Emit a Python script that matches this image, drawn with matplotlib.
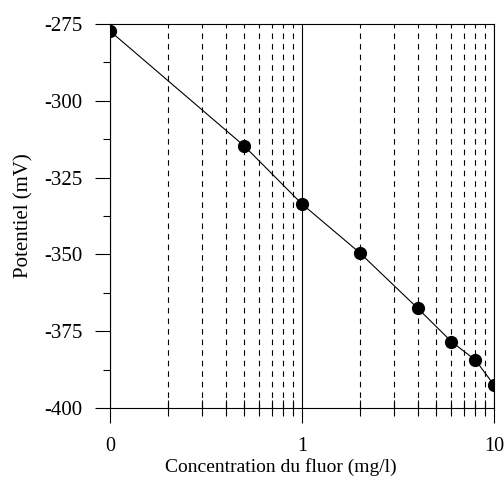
import matplotlib
matplotlib.use("Agg")
import matplotlib.pyplot as plt
import numpy as np
from matplotlib.ticker import FixedLocator, FixedFormatter, NullFormatter

# concentration (mg/l) and potential (mV)
conc = [0.1, 0.5, 1, 2, 4, 6, 8, 10]
pot = [-277.3, -314.7, -333.6, -349.5, -367.5, -378.4, -384.4, -392.5]

xmajor = [0.1, 1, 10]
xmajor_labels = ["0", "1", "10"]
xminor = [0.2, 0.3, 0.4, 0.5, 0.6, 0.7, 0.8, 0.9, 2, 3, 4, 5, 6, 7, 8, 9]
yticks = [-400, -375, -350, -325, -300, -275]
yminor = [-387.5, -362.5, -337.5, -312.5, -287.5]

plt.rcParams['font.family'] = ['Liberation Serif', 'DejaVu Serif']
plt.rcParams['axes.unicode_minus'] = False

fig = plt.figure(figsize=(5.04, 4.8), dpi=100)
ax = fig.add_axes([0.2183, 0.15, 0.7619, 0.80])

ax.set_xscale('log')
ax.set_xlim(0.1, 10)
ax.set_ylim(-400, -275)

ax.xaxis.set_major_locator(FixedLocator(xmajor))
ax.xaxis.set_major_formatter(FixedFormatter(xmajor_labels))
ax.xaxis.set_minor_locator(FixedLocator(xminor))
ax.xaxis.set_minor_formatter(NullFormatter())
ax.yaxis.set_major_locator(FixedLocator(yticks))
ax.yaxis.set_minor_locator(FixedLocator(yminor))

ax.grid(which='minor', axis='x', color='k', linestyle=(0, (5, 4.5)), linewidth=0.8)
ax.grid(which='major', axis='x', color='k', linestyle='-', linewidth=0.8)

ax.plot(conc, pot, color='k', linewidth=0.8, marker='o', markersize=8.5, zorder=3)

ax.tick_params(axis='x', which='major', direction='out', length=10.8, width=0.8,
               pad=10, labelsize=14.5)
ax.tick_params(axis='x', which='minor', direction='inout', length=11.5, width=0.8)
ax.tick_params(axis='y', which='major', direction='out', length=10.8, width=0.8,
               pad=9, labelsize=15)
ax.tick_params(axis='y', which='minor', direction='out', length=5, width=0.8)
for s in ax.spines.values():
    s.set_linewidth(0.8)

ax.set_xlabel('Concentration du fluor (mg/l)', fontsize=14, labelpad=0)
ax.xaxis.set_label_coords(0.445, -0.13)
ax.set_ylabel('Potentiel (mV)', fontsize=15, labelpad=8)

fig.savefig('out.png', dpi=100)
